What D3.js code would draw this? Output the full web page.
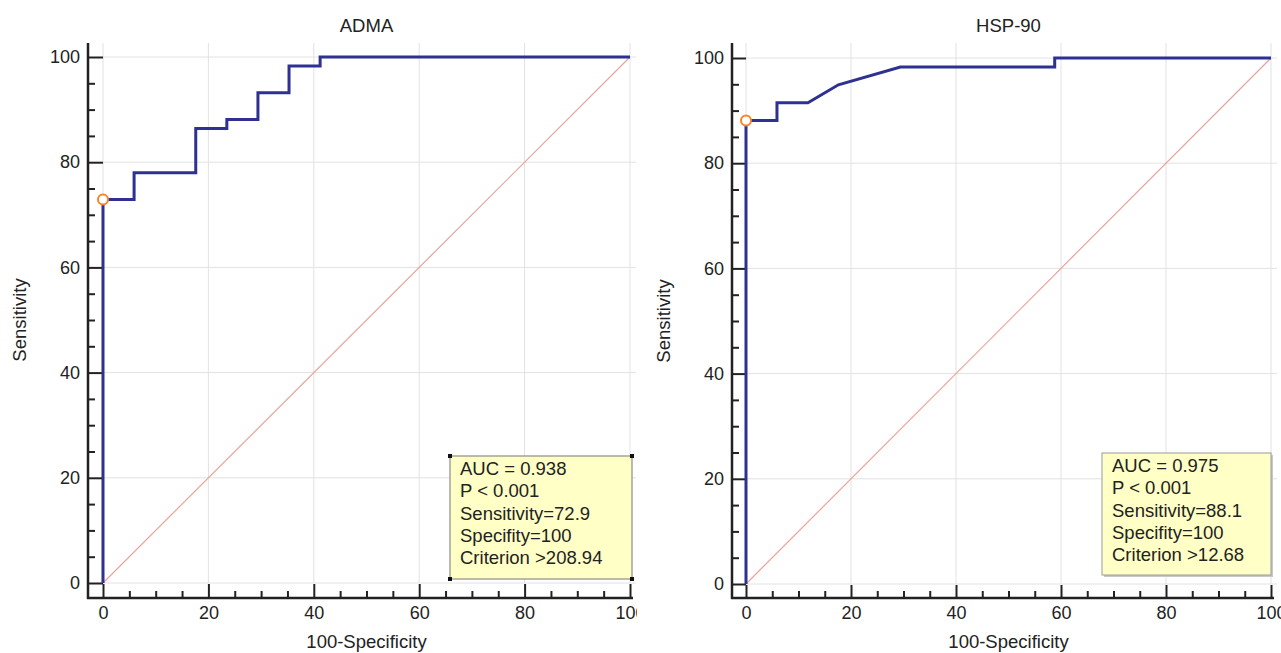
<!DOCTYPE html>
<html>
<head>
<meta charset="utf-8">
<script src="https://cdn.jsdelivr.net/npm/d3@7"></script>
<style>
  body { margin: 0; background: #fff; }
  svg { font-family: "Liberation Sans", Arial, sans-serif; }
</style>
</head>
<body>
<div id="chart"></div>
<script>
// ROC curves, values (100-Specificity, Sensitivity)
const admaX = [0, 0, 5.9, 5.9, 17.6, 17.6, 23.5, 23.5, 29.4, 29.4, 35.3, 35.3, 41.2, 41.2, 100];
const admaY = [0, 72.9, 72.9, 78.0, 78.0, 86.4, 86.4, 88.1, 88.1, 93.2, 93.2, 98.3, 98.3, 100, 100];
const hspX = [0, 0, 5.9, 5.9, 11.8, 17.6, 29.4, 58.8, 58.8, 100];
const hspY = [0, 88.1, 88.1, 91.5, 91.5, 94.9, 98.3, 98.3, 100, 100];

const admaCut = [0, 72.9];
const hspCut = [0, 88.1];

const admaNotes = ["AUC = 0.938", "P < 0.001", "Sensitivity=72.9", "Specifity=100", "Criterion >208.94"];
const hspNotes = ["AUC = 0.975", "P < 0.001", "Sensitivity=88.1", "Specifity=100", "Criterion >12.68"];

const majorTicks = [0, 20, 40, 60, 80, 100];
const minorTicks = d3.range(0, 101, 5).filter(d => d % 20 !== 0);

const W = 1281, H = 653;
const svg = d3.select("#chart").append("svg")
  .attr("width", W).attr("height", H);

svg.append("defs").append("clipPath").attr("id", "clipLeft")
  .append("rect").attr("x", 0).attr("y", 0).attr("width", 637).attr("height", H);

const drawPanel = (cfg) => {
  const g = svg.append("g");
  if (cfg.clip) g.attr("clip-path", `url(#${cfg.clip})`);
  const x = d3.scaleLinear().domain([0, 100]).range([cfg.x0, cfg.x1]);
  const y = d3.scaleLinear().domain([0, 100]).range([cfg.y0, cfg.y1]);

  // grid
  g.append("g").selectAll("line.v").data(majorTicks).join("line")
    .attr("x1", d => x(d)).attr("x2", d => x(d))
    .attr("y1", cfg.top).attr("y2", y(0))
    .attr("stroke", "#e2e2e2").attr("stroke-width", 1);
  g.append("g").selectAll("line.h").data(majorTicks).join("line")
    .attr("x1", x(0)).attr("x2", x(100) + 6)
    .attr("y1", d => y(d)).attr("y2", d => y(d))
    .attr("stroke", "#e2e2e2").attr("stroke-width", 1);

  // diagonal reference line
  g.append("line")
    .attr("x1", x(0)).attr("y1", y(0)).attr("x2", x(100)).attr("y2", y(100))
    .attr("stroke", "#e8a49c").attr("stroke-width", 1.2);

  // y axis
  const yAxisG = g.append("g").attr("transform", `translate(${cfg.axX},0)`);
  yAxisG.call(d3.axisLeft(y).tickValues(majorTicks).tickSizeInner(-(x(0) - cfg.axX)).tickSizeOuter(0).tickPadding(8));
  yAxisG.append("g").call(d3.axisLeft(y).tickValues(minorTicks).tickSizeInner(-7).tickSizeOuter(0).tickFormat(""));
  yAxisG.selectAll(".domain").remove();
  yAxisG.selectAll("line").attr("stroke", "#222").attr("stroke-width", 2);
  yAxisG.selectAll("text").attr("font-size", 18).attr("fill", "#222")
    .attr("font-family", "Liberation Sans, Arial, sans-serif");
  g.append("line").attr("x1", cfg.axX).attr("x2", cfg.axX)
    .attr("y1", cfg.top).attr("y2", cfg.axY + 1)
    .attr("stroke", "#222").attr("stroke-width", 2.5);

  // x axis
  const xAxisG = g.append("g").attr("transform", `translate(0,${cfg.axY})`);
  xAxisG.call(d3.axisBottom(x).tickValues(majorTicks).tickSizeInner(-(cfg.axY - y(0)) + 1).tickSizeOuter(0).tickPadding(8));
  xAxisG.append("g").call(d3.axisBottom(x).tickValues(minorTicks).tickSizeInner(-7).tickSizeOuter(0).tickFormat(""));
  xAxisG.selectAll(".domain").remove();
  xAxisG.selectAll("line").attr("stroke", "#222").attr("stroke-width", 2);
  xAxisG.selectAll("text").attr("font-size", 18).attr("fill", "#222")
    .attr("font-family", "Liberation Sans, Arial, sans-serif");
  g.append("line").attr("x1", cfg.axX - 1).attr("x2", x(100) + 3)
    .attr("y1", cfg.axY).attr("y2", cfg.axY)
    .attr("stroke", "#222").attr("stroke-width", 2.5);

  // ROC curve
  const pts = cfg.xs.map((d, i) => [d, cfg.ys[i]]);
  g.append("path").datum(pts)
    .attr("d", d3.line().x(d => x(d[0])).y(d => y(d[1])))
    .attr("fill", "none").attr("stroke", "#2e3192").attr("stroke-width", 3)
    .attr("stroke-linejoin", "miter");

  // optimal cut-off point
  g.append("circle")
    .attr("cx", x(cfg.cut[0])).attr("cy", y(cfg.cut[1])).attr("r", 5)
    .attr("fill", "#fff").attr("stroke", "#f7862a").attr("stroke-width", 2);

  // annotation box
  const b = cfg.box;
  if (b.shadow) {
    g.append("rect").attr("x", b.x + 2).attr("y", b.y + 2).attr("width", b.w).attr("height", b.h)
      .attr("fill", "#c8c8c8");
  }
  g.append("rect").attr("x", b.x).attr("y", b.y).attr("width", b.w).attr("height", b.h)
    .attr("fill", "#ffffc6").attr("stroke", b.stroke).attr("stroke-width", 1);
  if (b.corners) {
    g.selectAll("rect.corner").data([[b.x, b.y], [b.x + b.w, b.y], [b.x, b.y + b.h], [b.x + b.w, b.y + b.h]])
      .join("rect").attr("class", "corner")
      .attr("x", d => d[0] - 2).attr("y", d => d[1] - 2).attr("width", 4).attr("height", 4)
      .attr("fill", "#111");
  }
  g.append("g").selectAll("text").data(cfg.notes).join("text")
    .attr("x", b.x + 10).attr("y", (d, i) => b.y + 19 + i * 22.3)
    .attr("font-size", 18.5).attr("fill", "#222").text(d => d);

  // titles
  const cx = (x(0) + x(100)) / 2;
  g.append("text").attr("x", cx).attr("y", 32).attr("text-anchor", "middle")
    .attr("font-size", 18.5).attr("fill", "#222").text(cfg.title);
  g.append("text").attr("x", cx).attr("y", 648).attr("text-anchor", "middle")
    .attr("font-size", 18.5).attr("fill", "#222").text("100-Specificity");
  g.append("text").attr("transform", `translate(${cfg.axX - 62},${(cfg.y0 + cfg.y1) / 2}) rotate(-90)`)
    .attr("text-anchor", "middle").attr("font-size", 18.5).attr("fill", "#222").text("Sensitivity");
};

drawPanel({
  title: "ADMA", xs: admaX, ys: admaY, cut: admaCut, notes: admaNotes,
  x0: 103, x1: 630, y0: 583, y1: 57, axX: 88, axY: 598, top: 43, clip: "clipLeft",
  box: { x: 450, y: 456, w: 182, h: 123, stroke: "#777", corners: true, shadow: false }
});
drawPanel({
  title: "HSP-90", xs: hspX, ys: hspY, cut: hspCut, notes: hspNotes,
  x0: 746, x1: 1271, y0: 584, y1: 58, axX: 732, axY: 598, top: 43, clip: null,
  box: { x: 1102, y: 453, w: 169, h: 122, stroke: "#999", corners: false, shadow: true }
});
</script>
</body>
</html>
